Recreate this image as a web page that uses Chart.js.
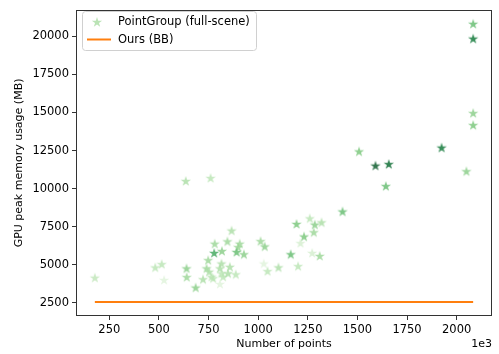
<!DOCTYPE html>
<html><head><meta charset="utf-8">
<script src="https://cdn.jsdelivr.net/npm/chart.js@4/dist/chart.umd.min.js"></script>
<style>html,body{margin:0;padding:0;background:#fff}#wrap{width:499px;height:354px;position:relative}</style>
</head><body><div id="wrap"><canvas id="c" width="499" height="354"></canvas></div>
<script>
// Number of points (x 1e3) for PointGroup scenes
const pointsK = [177,481,514,526,635,760,639,640,685,748,740,753,722,765,773,815,807,815,823,807,857,848,887,781,778,817,845,866,907,899,891,928,1012,1033,1028,1047,1102,1193,1260,1285,1319,1280,1231,1213,1164,1201,1272,1310,1425,1508,1591,1658,1643,1924,2049,2083,2083,2083,2083];
// GPU peak memory (MB) for PointGroup scenes
const memoryMB = [4160,4830,5050,4010,10500,10700,4770,4200,3510,5310,4770,4550,4055,4224,4120,5090,4768,4444,4224,3750,4872,4444,4380,6390,5780,5909,6540,7250,6389,6168,5844,5695,6557,6207,5090,4590,4833,7685,8050,7640,7788,7140,6862,6430,5695,4917,5780,5585,8500,12440,11510,11612,10170,12690,11140,20815,19840,14960,14170];
// colour-map value per scene (0..1)
const shadeVal = [0.28,0.3,0.3,0.15,0.35,0.3,0.45,0.4,0.45,0.4,0.4,0.35,0.35,0.3,0.3,0.35,0.35,0.3,0.3,0.15,0.35,0.35,0.3,0.4,0.65,0.45,0.4,0.35,0.4,0.4,0.55,0.45,0.4,0.45,0.15,0.3,0.35,0.5,0.3,0.45,0.35,0.4,0.5,0.2,0.55,0.3,0.2,0.4,0.55,0.5,0.95,0.9,0.55,0.85,0.45,0.55,0.85,0.45,0.5];
// Ours (BB) constant memory
const oursK = [177, 2083];
const oursMB = [2560, 2560];
const xTicks = [250,500,750,1000,1250,1500,1750,2000];
const yTicks = [2500,5000,7500,10000,12500,15000,17500,20000];

const greens = ['#f7fcf5','#e5f5e0','#c7e9c0','#a1d99b','#74c476','#41ab5d','#238b45','#006d2c','#00441b'];
function hex(h){return [parseInt(h.substr(1,2),16),parseInt(h.substr(3,2),16),parseInt(h.substr(5,2),16)];}
function cmap(t){
  t=Math.max(0,Math.min(1,t))*8; const i=Math.min(7,Math.floor(t)), f=t-i;
  const a=hex(greens[i]), b=hex(greens[i+1]);
  return [0,1,2].map(k=>Math.round(a[k]+(b[k]-a[k])*f));
}
function starImg(rgb, alpha){
  const cv=document.createElement('canvas'); cv.width=12; cv.height=12;
  const g=cv.getContext('2d'); const R=5.4, r=R*0.382;
  g.beginPath();
  for(let k=0;k<10;k++){
    const ang=-Math.PI/2+k*Math.PI/5, rr=k%2?r:R;
    const px=6+rr*Math.cos(ang), py=6.4+rr*Math.sin(ang);
    k?g.lineTo(px,py):g.moveTo(px,py);
  }
  g.closePath();
  g.fillStyle=`rgba(${rgb[0]},${rgb[1]},${rgb[2]},${alpha})`;
  g.fill();
  return cv;
}
const starStyles = shadeVal.map(s=>starImg(cmap(s),0.8));
const legendStar = starImg(cmap(0.35),0.8);

const FONT='DejaVu Sans';
const deco = {
  id:'deco',
  afterDatasetsDraw(chart){
    const ctx=chart.ctx, a=chart.chartArea;
    ctx.save();
    ctx.strokeStyle='#333'; ctx.lineWidth=1;
    ctx.strokeRect(Math.round(a.left)+0.5, Math.round(a.top)+0.5, Math.round(a.right-a.left)-1, Math.round(a.bottom-a.top)-1);
    // legend
    ctx.beginPath();
    ctx.roundRect(82.5,11.5,174,39,3);
    ctx.fillStyle='rgba(255,255,255,0.8)'; ctx.fill();
    ctx.strokeStyle='#d0d0d0'; ctx.stroke();
    ctx.drawImage(legendStar,91,16);
    ctx.strokeStyle='#ff7f0e'; ctx.lineWidth=2;
    ctx.beginPath(); ctx.moveTo(87,39.5); ctx.lineTo(111,39.5); ctx.stroke();
    ctx.fillStyle='#000'; ctx.font='11.5px "'+FONT+'"'; ctx.textBaseline='middle'; ctx.textAlign='left';
    ctx.fillText('PointGroup (full-scene)',118,22);
    ctx.fillText('Ours (BB)',118,40);
    // axis titles
    ctx.font='11px "'+FONT+'"';
    ctx.textAlign='center';
    ctx.fillText('Number of points',(a.left+a.right)/2,344);
    ctx.textAlign='right';
    ctx.fillText('1e3',a.right,344);
    ctx.translate(19,(a.top+a.bottom)/2); ctx.rotate(-Math.PI/2);
    ctx.textAlign='center';
    ctx.fillText('GPU peak memory usage (MB)',0,0);
    ctx.restore();
  }
};

new Chart(document.getElementById('c'),{
  type:'scatter',
  data:{datasets:[
    {label:'PointGroup (full-scene)', data:pointsK.map((x,i)=>({x, y:memoryMB[i]})),
     pointStyle:starStyles, pointRadius:5, pointHoverRadius:5, order:1},
    {label:'Ours (BB)', data:oursK.map((x,i)=>({x, y:oursMB[i]})), showLine:true,
     borderColor:'#ff7f0e', borderWidth:2, pointRadius:0, order:2}
  ]},
  options:{
    responsive:false, animation:false, events:[],
    layout:{padding:{top:6,right:7,left:0,bottom:0}},
    plugins:{legend:{display:false}, tooltip:{enabled:false}},
    scales:{
      x:{type:'linear', min:82, max:2178,
        afterBuildTicks:s=>{s.ticks=xTicks.map(v=>({value:v}));},
        afterFit:s=>{s.height=38;},
        ticks:{callback:v=>String(v), color:'#000', font:{family:FONT,size:11.5}, padding:3, maxRotation:0, autoSkip:false},
        grid:{drawOnChartArea:false, tickLength:4, color:'#333'}, border:{display:false}},
      y:{type:'linear', min:1647, max:21728,
        afterBuildTicks:s=>{s.ticks=yTicks.map(v=>({value:v}));},
        afterFit:s=>{s.width=76;},
        ticks:{callback:v=>String(v), color:'#000', font:{family:FONT,size:11.5}, padding:3, autoSkip:false},
        grid:{drawOnChartArea:false, tickLength:4, color:'#333'}, border:{display:false}}
    }
  },
  plugins:[deco]
});
</script></body></html>
